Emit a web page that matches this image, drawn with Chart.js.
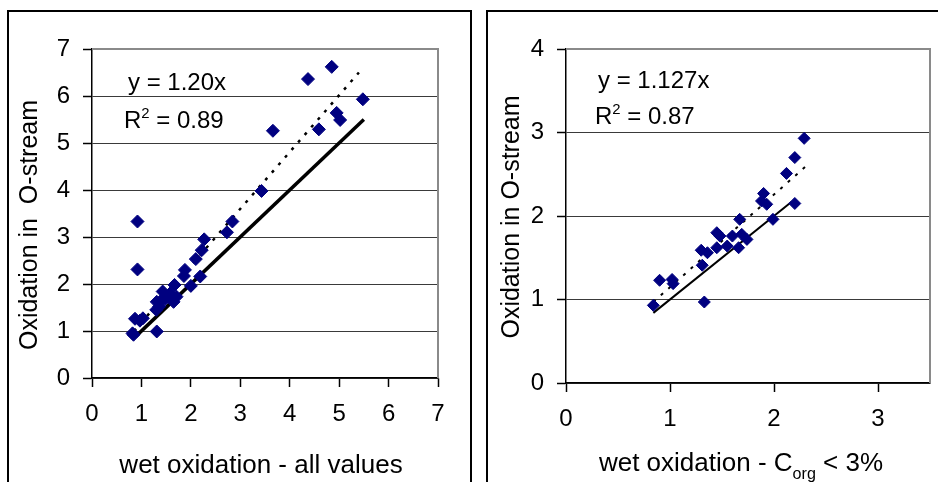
<!DOCTYPE html>
<html lang="en">
<head>
  <meta charset="UTF-8" />
  <title>Oxidation comparison</title>
  <script src="https://cdn.jsdelivr.net/npm/chart.js"></script>
  <style>
    html, body { margin: 0; padding: 0; background: #fff; overflow: hidden; }
    body { width: 938px; height: 482px; position: relative; }
    .box { position: absolute; border: 2px solid #000; border-bottom: none; }
    #boxLeft { left: 7px; top: 10px; width: 461px; height: 480px; }
    #boxRight { left: 486px; top: 10px; width: 500px; height: 480px; }
    canvas { position: absolute; }
    #left { left: 9px; top: 12px; }
    #right { left: 489px; top: 12px; }
  </style>
</head>
<body>
  <div class="box" id="boxLeft"></div>
  <div class="box" id="boxRight"></div>
  <canvas id="left" width="462" height="470"></canvas>
  <canvas id="right" width="449" height="470"></canvas>

  <script>
    // Left panel: all values
    const leftX = [4.37, 4.85, 5.48, 3.66, 4.59, 4.95, 5.02, 3.43, 0.92, 0.92, 2.84, 2.73, 2.27,
                   2.22, 2.10, 2.19, 1.88, 1.86, 2.00, 1.67, 1.71, 1.43, 1.52, 1.65, 1.31, 1.30,
                   1.41, 1.03, 0.87, 0.97, 0.82, 0.84, 1.31, 1.58, 1.48, 1.60, 1.36];
    const leftY = [6.36, 6.62, 5.93, 5.26, 5.29, 5.64, 5.49, 3.98, 3.33, 2.31, 3.33, 3.10, 2.95,
                   2.72, 2.53, 2.16, 2.30, 2.17, 1.96, 1.98, 1.73, 1.84, 1.73, 1.62, 1.62, 1.45,
                   1.66, 1.27, 1.26, 1.22, 0.95, 0.92, 0.99, 1.80, 1.68, 1.70, 1.52];
    const leftFitX = [0.85, 5.40];
    const leftFitY = [1.00, 6.50];
    const leftOneX = [0.88, 5.50];
    const leftOneY = [0.88, 5.50];
    const leftXTicks = [0, 1, 2, 3, 4, 5, 6, 7];
    const leftYTicks = [0, 1, 2, 3, 4, 5, 6, 7];

    // Right panel: Corg < 3%
    const rightX = [2.29, 2.20, 2.12, 2.20, 1.90, 1.88, 1.93, 1.67, 1.99, 1.45, 1.48, 1.60, 1.69,
                    1.74, 1.55, 1.66, 1.45, 1.30, 1.36, 1.31, 0.90, 1.02, 1.03, 0.84, 1.33];
    const rightY = [2.93, 2.70, 2.51, 2.15, 2.27, 2.18, 2.14, 1.96, 1.96, 1.80, 1.76, 1.76, 1.78,
                    1.72, 1.64, 1.62, 1.62, 1.59, 1.56, 1.41, 1.23, 1.24, 1.19, 0.93, 0.97];
    const rightFitX = [0.84, 2.31];
    const rightFitY = [0.97, 2.60];
    const rightOneX = [0.84, 2.17];
    const rightOneY = [0.84, 2.17];
    const rightXTicks = [0, 1, 2, 3];
    const rightYTicks = [0, 1, 2, 3, 4];

    const FONT = '"Liberation Sans", Arial, sans-serif';
    const pts = (xs, ys) => xs.map((x, i) => ({ x: x, y: ys[i] }));

    // draws text pieces with sub/superscripts
    function richText(ctx, x, y, parts, size, align) {
      let w = 0;
      parts.forEach(p => {
        ctx.font = (p.sub || p.sup ? size * 0.62 : size) + 'px ' + FONT;
        w += ctx.measureText(p.t).width;
      });
      let cx = align === 'center' ? x - w / 2 : x;
      ctx.textAlign = 'left';
      ctx.textBaseline = 'alphabetic';
      parts.forEach(p => {
        const small = p.sub || p.sup;
        ctx.font = (small ? size * 0.62 : size) + 'px ' + FONT;
        const dy = p.sub ? size * 0.3 : p.sup ? -size * 0.42 : 0;
        ctx.fillText(p.t, cx, y + dy);
        cx += ctx.measureText(p.t).width;
      });
    }

    function textPlugin(cfg) {
      return {
        id: 'panelText',
        beforeDatasetsDraw(chart) {
          // grey frame on top and right of plot area
          const a = chart.chartArea, ctx = chart.ctx;
          ctx.save();
          ctx.strokeStyle = '#8a8a8a';
          ctx.lineWidth = 2;
          ctx.beginPath();
          ctx.moveTo(a.left, a.top);
          ctx.lineTo(a.right, a.top);
          ctx.lineTo(a.right, a.bottom);
          ctx.stroke();
          ctx.restore();
        },
        afterDraw(chart) {
          const ctx = chart.ctx;
          ctx.save();
          ctx.fillStyle = '#000';
          cfg.notes.forEach(n => richText(ctx, n.x, n.y, n.parts, 24, 'left'));
          richText(ctx, cfg.xTitle.x, cfg.xTitle.y, cfg.xTitle.parts, 26, 'center');
          ctx.translate(cfg.yTitle.x, cfg.yTitle.y);
          ctx.rotate(-Math.PI / 2);
          richText(ctx, 0, 9, cfg.yTitle.parts, 25, 'center');
          ctx.restore();
        }
      };
    }

    function makeChart(id, p) {
      const tickFont = { family: FONT, size: 24 };
      return new Chart(document.getElementById(id), {
        type: 'scatter',
        data: {
          datasets: [
            {
              data: pts(p.xs, p.ys),
              pointStyle: 'rectRot',
              pointRadius: p.r,
              backgroundColor: '#000080',
              borderColor: '#000080',
              borderWidth: 1,
              order: 0
            },
            {
              type: 'line',
              data: pts(p.fitX, p.fitY),
              borderColor: '#000',
              borderWidth: p.dotW,
              borderDash: [3, 7],
              pointRadius: 0,
              order: 1
            },
            {
              type: 'line',
              data: pts(p.oneX, p.oneY),
              borderColor: '#000',
              borderWidth: p.lineW,
              pointRadius: 0,
              order: 2
            }
          ]
        },
        options: {
          responsive: false,
          animation: false,
          events: [],
          layout: { padding: { left: 0, top: 37, right: p.padRight, bottom: 0 } },
          plugins: { legend: { display: false }, tooltip: { enabled: false } },
          scales: {
            x: {
              type: 'linear',
              min: p.xMin, max: p.xMax,
              afterBuildTicks: s => { s.ticks = p.xTicks.map(v => ({ value: v })); },
              ticks: { font: tickFont, color: '#000', padding: 13, maxRotation: 0 },
              grid: { drawOnChartArea: false, tickLength: 9, tickColor: '#000', tickWidth: 1.5 },
              border: { color: '#000', width: 1.5 },
              afterFit: s => { s.height = p.xHeight; }
            },
            y: {
              type: 'linear',
              min: p.yMin, max: p.yMax,
              afterBuildTicks: s => { s.ticks = p.yTicks.map(v => ({ value: v })); },
              ticks: { font: tickFont, color: '#000', padding: 13 },
              grid: { color: '#3a3a3a', lineWidth: 1, tickLength: 9, tickColor: '#000', tickWidth: 1.5 },
              border: { color: '#000', width: 1.5 },
              afterFit: s => { s.width = p.yWidth; }
            }
          }
        },
        plugins: [textPlugin(p.text)]
      });
    }

    makeChart('left', {
      xs: leftX, ys: leftY, fitX: leftFitX, fitY: leftFitY, oneX: leftOneX, oneY: leftOneY,
      xTicks: leftXTicks, yTicks: leftYTicks,
      xMin: 0, xMax: 7, yMin: 0, yMax: 7,
      r: 6.5, dotW: 2.5, lineW: 3.5,
      padRight: 33, xHeight: 104, yWidth: 83,
      text: {
        notes: [
          { x: 119, y: 78, parts: [{ t: 'y = 1.20x' }] },
          { x: 115, y: 116, parts: [{ t: 'R' }, { t: '2', sup: true }, { t: ' = 0.89' }] }
        ],
        xTitle: { x: 252, y: 461, parts: [{ t: 'wet oxidation - all values' }] },
        yTitle: { x: 19, y: 213, parts: [{ t: 'Oxidation in  O-stream' }] }
      }
    });

    makeChart('right', {
      xs: rightX, ys: rightY, fitX: rightFitX, fitY: rightFitY, oneX: rightOneX, oneY: rightOneY,
      xTicks: rightXTicks, yTicks: rightYTicks,
      xMin: 0, xMax: 3.5, yMin: 0, yMax: 4,
      r: 6, dotW: 2, lineW: 2,
      padRight: 8, xHeight: 99, yWidth: 77,
      text: {
        notes: [
          { x: 109, y: 76, parts: [{ t: 'y = 1.127x' }] },
          { x: 106, y: 112, parts: [{ t: 'R' }, { t: '2', sup: true }, { t: ' = 0.87' }] }
        ],
        xTitle: { x: 252, y: 459, parts: [{ t: 'wet oxidation - C' }, { t: 'org', sub: true }, { t: ' < 3%' }] },
        yTitle: { x: 21, y: 205, parts: [{ t: 'Oxidation in O-stream' }] }
      }
    });
  </script>
</body>
</html>
